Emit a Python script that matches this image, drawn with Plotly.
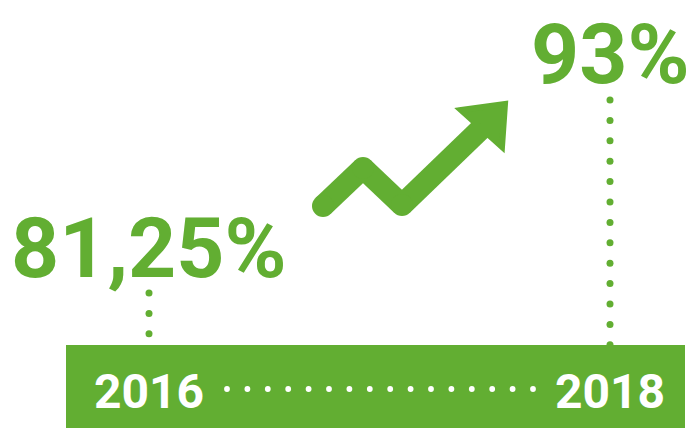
import numpy as np
import plotly.graph_objects as go

# ---- data ----
years = [2016, 2018]
values = [81.25, 93.0]
value_labels = ["81,25%", "93%"]
year_labels = ["2016", "2018"]

GREEN = "#62AE32"
W, H = 696, 428

# ---- scales (pixel <-> data) ----
PX_PER_YEAR = 230.5
X_AT_PX0 = 2016 - 149 / PX_PER_YEAR
PX_PER_UNIT = 16.426
Y_TOP_DOT = 293


def px2x(px):
    return X_AT_PX0 + px / PX_PER_YEAR


def py2y(py):
    return values[0] - (py - Y_TOP_DOT) / PX_PER_UNIT


def pp(px, py):
    return px / W, 1 - py / H


x_range = [px2x(0), px2x(W)]
y_range = [py2y(H), py2y(0)]
bar_top = py2y(345)

fig = go.Figure()

# vertical dotted leaders from each value down to the bar
step = 20.4 / PX_PER_UNIT
for yr, v in zip(years, values):
    ys = np.arange(v, bar_top - step, -step)
    fig.add_trace(go.Scatter(
        x=[yr] * len(ys), y=ys, mode="markers",
        marker=dict(size=7, color=GREEN), hoverinfo="skip"))

shapes = []
# green band at bottom
shapes.append(dict(type="rect", xref="x", yref="y", layer="above",
                   x0=px2x(66), x1=px2x(685), y0=y_range[0] - 1, y1=bar_top,
                   fillcolor=GREEN, line=dict(width=0)))

# white dots between the years
dot_x = np.linspace(years[0] + (227 - 149) / PX_PER_YEAR,
                    years[1] - (610 - 533) / PX_PER_YEAR, 16)
dy = py2y(389)
rx, ry = 2.9 / PX_PER_YEAR, 2.9 / PX_PER_UNIT
for xv in dot_x:
    shapes.append(dict(type="circle", xref="x", yref="y", layer="above",
                       x0=xv - rx, x1=xv + rx, y0=dy - ry, y1=dy + ry,
                       fillcolor="white", line=dict(width=0)))

# zigzag trend arrow (decoration)
pts = [(323, 206), (363, 168), (402, 205), (486, 124)]
R = 11
for (ax, ay), (bx, by) in zip(pts[:-1], pts[1:]):
    x0, y0 = pp(ax, ay)
    x1, y1 = pp(bx, by)
    shapes.append(dict(type="line", xref="paper", yref="paper",
                       x0=x0, y0=y0, x1=x1, y1=y1,
                       line=dict(color=GREEN, width=2 * R)))
for (cx, cy) in pts[:-1]:
    a0, b0 = pp(cx - R, cy + R)
    a1, b1 = pp(cx + R, cy - R)
    shapes.append(dict(type="circle", xref="paper", yref="paper",
                       x0=a0, y0=b0, x1=a1, y1=b1,
                       fillcolor=GREEN, line=dict(width=0)))
tri = [(461, 110), (505, 104), (502, 147)]
path = "M " + " L ".join(f"{pp(x, y)[0]:.5f},{pp(x, y)[1]:.5f}" for x, y in tri) + " Z"
shapes.append(dict(type="path", xref="paper", yref="paper", path=path,
                   fillcolor=GREEN, line=dict(color=GREEN, width=6)))

annotations = []
FONT = "Roboto, sans-serif"
for yr, v, lab in zip(years, values, value_labels):
    annotations.append(dict(x=yr, y=v, xref="x", yref="y", text=f"<b>{lab}</b>",
                            showarrow=False, xanchor="center", yanchor="middle",
                            yshift=45, font=dict(size=84, color=GREEN, family=FONT)))
for yr, lab in zip(years, year_labels):
    annotations.append(dict(x=yr, y=py2y(391), xref="x", yref="y",
                            text=f"<b>{lab}</b>", showarrow=False,
                            xanchor="center", yanchor="middle",
                            font=dict(size=48, color="white", family=FONT)))

fig.update_layout(
    width=W, height=H, margin=dict(l=0, r=0, t=0, b=0),
    paper_bgcolor="white", plot_bgcolor="white", showlegend=False,
    xaxis=dict(range=x_range, visible=False, fixedrange=True),
    yaxis=dict(range=y_range, visible=False, fixedrange=True),
    shapes=shapes, annotations=annotations,
)

fig.write_html("out.html", config={"displayModeBar": False},
               post_script="document.body.style.margin='0';")
